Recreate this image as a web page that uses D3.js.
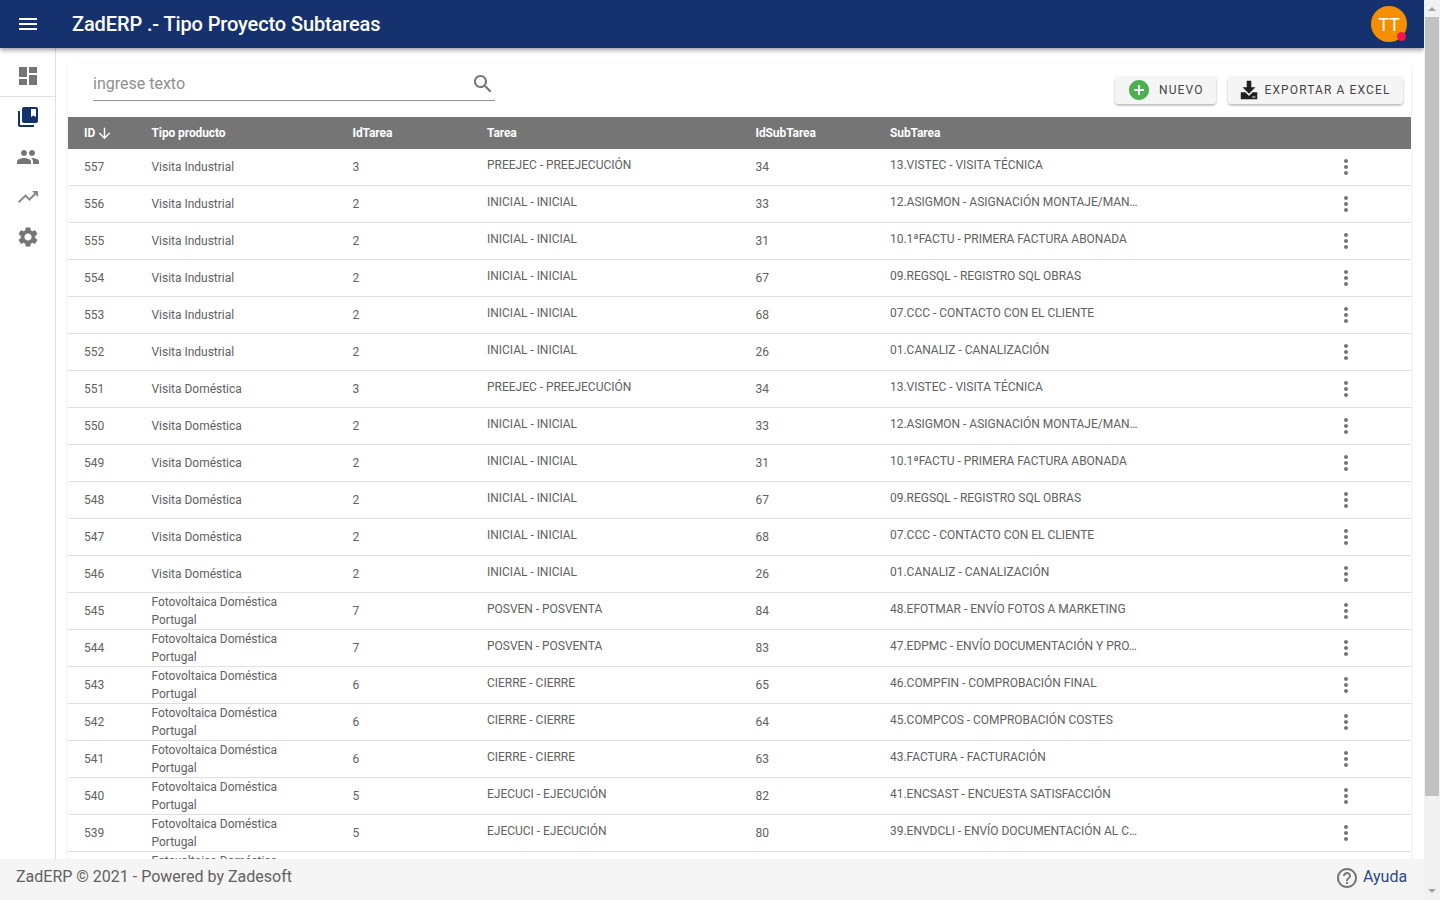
<!DOCTYPE html>
<html>
<head>
<meta charset="utf-8">
<title>ZadERP .- Tipo Proyecto Subtareas</title>
<script src="https://cdnjs.cloudflare.com/ajax/libs/d3/7.8.5/d3.min.js"></script>
<style>
  html, body { margin: 0; padding: 0; background: #fff; overflow: hidden; }
  svg { display: block; font-family: Roboto, sans-serif; }
</style>
</head>
<body>
<div id="app"></div>
<script>
const VD = 'Visita Doméstica', VI = 'Visita Industrial', FP = 'Fotovoltaica Doméstica|Portugal';
const PRE = 'PREEJEC - PREEJECUCIÓN', INI = 'INICIAL - INICIAL', POS = 'POSVEN - POSVENTA', CIE = 'CIERRE - CIERRE', EJE = 'EJECUCI - EJECUCIÓN';

const columns = ['ID', 'Tipo producto', 'IdTarea', 'Tarea', 'IdSubTarea', 'SubTarea'];
const ids = [557, 556, 555, 554, 553, 552, 551, 550, 549, 548, 547, 546, 545, 544, 543, 542, 541, 540, 539, 538];
const tipos = [VI, VI, VI, VI, VI, VI, VD, VD, VD, VD, VD, VD, FP, FP, FP, FP, FP, FP, FP, FP];
const idTareas = [3, 2, 2, 2, 2, 2, 3, 2, 2, 2, 2, 2, 7, 7, 6, 6, 6, 5, 5, ''];
const tareas = [PRE, INI, INI, INI, INI, INI, PRE, INI, INI, INI, INI, INI, POS, POS, CIE, CIE, CIE, EJE, EJE, ''];
const idSubTareas = [34, 33, 31, 67, 68, 26, 34, 33, 31, 67, 68, 26, 84, 83, 65, 64, 63, 82, 80, ''];
const subTareas = [
  '13.VISTEC - VISITA TÉCNICA',
  '12.ASIGMON - ASIGNACIÓN MONTAJE/MAN…',
  '10.1ªFACTU - PRIMERA FACTURA ABONADA',
  '09.REGSQL - REGISTRO SQL OBRAS',
  '07.CCC - CONTACTO CON EL CLIENTE',
  '01.CANALIZ - CANALIZACIÓN',
  '13.VISTEC - VISITA TÉCNICA',
  '12.ASIGMON - ASIGNACIÓN MONTAJE/MAN…',
  '10.1ªFACTU - PRIMERA FACTURA ABONADA',
  '09.REGSQL - REGISTRO SQL OBRAS',
  '07.CCC - CONTACTO CON EL CLIENTE',
  '01.CANALIZ - CANALIZACIÓN',
  '48.EFOTMAR - ENVÍO FOTOS A MARKETING',
  '47.EDPMC - ENVÍO DOCUMENTACIÓN Y PRO…',
  '46.COMPFIN - COMPROBACIÓN FINAL',
  '45.COMPCOS - COMPROBACIÓN COSTES',
  '43.FACTURA - FACTURACIÓN',
  '41.ENCSAST - ENCUESTA SATISFACCIÓN',
  '39.ENVDCLI - ENVÍO DOCUMENTACIÓN AL C…',
  ''
];

// material icon paths, 24x24
const ICONS = {
  menu: 'M3 18h18v-2H3v2zm0-5h18v-2H3v2zm0-7v2h18V6H3z',
  dashboard: 'M3 13h8V3H3v10zm0 8h8v-6H3v6zm10 0h8V11h-8v10zm0-18v6h8V3h-8z',
  bookmarks: 'M4 6H2v14c0 1.1.9 2 2 2h14v-2H4V6zM20 2H8c-1.1 0-2 .9-2 2v12c0 1.1.9 2 2 2h12c1.1 0 2-.9 2-2V4c0-1.1-.9-2-2-2zm0 10l-2.5-1.5L15 12V4h5v8z',
  people: 'M16 11c1.66 0 2.99-1.34 2.99-3S17.66 5 16 5c-1.66 0-3 1.34-3 3s1.34 3 3 3zm-8 0c1.66 0 2.99-1.34 2.99-3S9.66 5 8 5C6.34 5 5 6.34 5 8s1.34 3 3 3zm0 2c-2.33 0-7 1.17-7 3.5V19h14v-2.5c0-2.33-4.67-3.5-7-3.5zm8 0c-.29 0-.62.02-.97.05 1.16.84 1.97 1.97 1.97 3.45V19h6v-2.5c0-2.33-4.67-3.5-7-3.5z',
  trending: 'M16 6l2.29 2.29-4.88 4.88-4-4L2 16.59 3.41 18l6-6 4 4 6.3-6.29L22 12V6z',
  settings: 'M19.14 12.94c.04-.3.06-.61.06-.94 0-.32-.02-.64-.07-.94l2.03-1.58c.18-.14.23-.41.12-.61l-1.92-3.32c-.12-.22-.37-.29-.59-.22l-2.39.96c-.5-.38-1.03-.7-1.62-.94l-.36-2.54c-.04-.24-.24-.41-.48-.41h-3.84c-.24 0-.43.17-.47.41l-.36 2.54c-.59.24-1.13.57-1.62.94l-2.39-.96c-.22-.08-.47 0-.59.22L2.74 8.87c-.12.21-.08.47.12.61l2.03 1.58c-.05.3-.09.63-.09.94s.02.64.07.94l-2.03 1.58c-.18.14-.23.41-.12.61l1.92 3.32c.12.22.37.29.59.22l2.39-.96c.5.38 1.03.7 1.62.94l.36 2.54c.05.24.24.41.48.41h3.84c.24 0 .44-.17.47-.41l.36-2.54c.59-.24 1.13-.56 1.62-.94l2.39.96c.22.08.47 0 .59-.22l1.92-3.32c.12-.22.07-.47-.12-.61l-2.01-1.58zM12 15.6c-1.98 0-3.6-1.62-3.6-3.6s1.62-3.6 3.6-3.6 3.6 1.62 3.6 3.6-1.62 3.6-3.6 3.6z',
  search: 'M15.5 14h-.79l-.28-.27C15.41 12.59 16 11.11 16 9.5 16 5.91 13.09 3 9.5 3S3 5.91 3 9.5 5.91 16 9.5 16c1.61 0 3.09-.59 4.23-1.57l.27.28v.79l5 4.99L20.49 19l-4.99-5zm-6 0C7.01 14 5 11.99 5 9.5S7.01 5 9.5 5 14 7.01 14 9.5 11.99 14 9.5 14z',
  arrowDown: 'M20 12l-1.41-1.41L13 16.17V4h-2v12.17l-5.58-5.59L4 12l8 8 8-8z',
  more: 'M12 8c1.1 0 2-.9 2-2s-.9-2-2-2-2 .9-2 2 .9 2 2 2zm0 2c-1.1 0-2 .9-2 2s.9 2 2 2 2-.9 2-2-.9-2-2-2zm0 6c-1.1 0-2 .9-2 2s.9 2 2 2 2-.9 2-2-.9-2-2-2z',
  help: 'M11 18h2v-2h-2v2zm1-16C6.48 2 2 6.48 2 12s4.48 10 10 10 10-4.48 10-10S17.52 2 12 2zm0 18c-4.41 0-8-3.59-8-8s3.59-8 8-8 8 3.59 8 8-3.59 8-8 8zm0-14c-2.21 0-4 1.79-4 4h2c0-1.1.9-2 2-2s2 .9 2 2c0 2-3 1.75-3 5h2c0-2.25 3-2.5 3-5 0-2.21-1.79-4-4-4z',
  add: 'M12 2C6.48 2 2 6.48 2 12s4.48 10 10 10 10-4.48 10-10S17.52 2 12 2zm5 11h-4v4h-2v-4H7v-2h4V7h2v4h4v2z',
  download: 'M9.5 2h5v7h4.5L12 16 5 9h4.5zM3 14.5h5l4 4 4-4h5V22H3zM15.5 19.2v1.1h3.5v-1.1z'
};

const TEXT_COLOR = '#616161';
const W = 1440, H = 900;
const svg = d3.select('#app').append('svg').attr('width', W).attr('height', H);

const defs = svg.append('defs');
const shadow = (id, dy, blur, op) => {
  const f = defs.append('filter').attr('id', id)
    .attr('x', '-10%').attr('y', '-30%').attr('width', '120%').attr('height', '170%');
  f.append('feDropShadow').attr('dx', 0).attr('dy', dy)
    .attr('stdDeviation', blur).attr('flood-color', '#000').attr('flood-opacity', op);
};
shadow('barShadow', 2, 2.5, 0.4);
shadow('cardShadow', 1, 1.5, 0.12);
shadow('btnShadow', 1.5, 1, 0.3);

const icon = (parent, name, x, y, size, fill) => parent.append('path')
  .attr('d', ICONS[name])
  .attr('transform', `translate(${x},${y}) scale(${size / 24})`)
  .attr('fill', fill);

// scales for the table
const xCol = d3.scaleOrdinal().domain(columns).range([84, 151.5, 352.5, 487, 755.5, 890]);
const yRow = d3.scaleBand().domain(ids).range([149, 149 + 37 * ids.length]);
const rowMid = id => yRow(id) + 18;

// sidebar
svg.append('rect').attr('x', 55).attr('y', 48).attr('width', 1).attr('height', 812).attr('fill', '#e0e0e0');
svg.append('rect').attr('x', 0).attr('y', 96).attr('width', 55).attr('height', 1).attr('fill', '#e0e0e0');
icon(svg, 'dashboard', 16, 64, 24, '#757575');
icon(svg, 'bookmarks', 16, 105, 24, '#12326e');
icon(svg, 'people', 16, 145, 24, '#757575');
icon(svg, 'trending', 16, 185, 24, '#8a8a8a');
icon(svg, 'settings', 16, 225, 24, '#757575');

// card
svg.append('rect').attr('x', 68).attr('y', 64).attr('width', 1343).attr('height', 830).attr('rx', 4)
  .attr('fill', '#fff').attr('filter', 'url(#cardShadow)');

// search box
svg.append('text').attr('x', 93).attr('y', 89).attr('font-size', 16).attr('fill', '#8f8f8f').text('ingrese texto');
svg.append('rect').attr('x', 93).attr('y', 100).attr('width', 402).attr('height', 1).attr('fill', '#949494');
icon(svg, 'search', 471, 72, 24, '#757575');

// buttons
const btn = svg.append('g');
btn.append('rect').attr('x', 1115).attr('y', 76).attr('width', 101).attr('height', 28).attr('rx', 4)
  .attr('fill', '#f5f5f5').attr('filter', 'url(#btnShadow)');
btn.append('rect').attr('x', 1228).attr('y', 76).attr('width', 175).attr('height', 28).attr('rx', 4)
  .attr('fill', '#f5f5f5').attr('filter', 'url(#btnShadow)');
icon(btn, 'add', 1127, 78, 24, '#4caf50');
icon(btn, 'download', 1238, 79, 22, '#212121');
btn.selectAll('text').data([['NUEVO', 1159], ['EXPORTAR A EXCEL', 1264.5]]).join('text')
  .attr('x', d => d[1]).attr('y', 94).attr('font-size', 12).attr('letter-spacing', 1.12)
  .attr('font-weight', 400).attr('fill', '#444').text(d => d[0]);

// table header
svg.append('rect').attr('x', 68).attr('y', 117).attr('width', 1343).attr('height', 32).attr('fill', '#757575');
svg.append('g').selectAll('text').data(columns).join('text')
  .attr('x', d => xCol(d)).attr('y', 137)
  .attr('font-size', 12).attr('font-weight', 700).attr('fill', '#fff')
  .attr('letter-spacing', -0.1)
  .text(d => d);
icon(svg, 'arrowDown', 96, 125, 17, '#fff');

// table rows
const rows = svg.append('g').selectAll('g').data(ids).join('g');
rows.append('rect')
  .attr('x', 68).attr('y', d => yRow(d) + 36).attr('width', 1343).attr('height', 1).attr('fill', '#e0e0e0');

const cell = (cls, col, values, dy) => rows.append('text')
  .attr('class', cls)
  .attr('x', xCol(col))
  .attr('y', d => rowMid(d) + dy)
  .attr('font-size', 12).attr('letter-spacing', -0.02).attr('fill', TEXT_COLOR)
  .text((d, i) => values[i]);

cell('c-id', 'ID', ids, 4);
cell('c-idt', 'IdTarea', idTareas, 4);
cell('c-t', 'Tarea', tareas, 2);
cell('c-ids', 'IdSubTarea', idSubTareas, 4);
cell('c-st', 'SubTarea', subTareas, 2);

// tipo producto, wraps on two lines for the long ones
rows.each(function (d, i) {
  const lines = tipos[i].split('|');
  const g = d3.select(this);
  lines.forEach((line, k) => {
    const dy = lines.length === 1 ? 4 : (k === 0 ? -5 : 13);
    g.append('text')
      .attr('x', xCol('Tipo producto')).attr('y', rowMid(d) + dy)
      .attr('font-size', 12).attr('letter-spacing', -0.02).attr('fill', TEXT_COLOR).text(line);
  });
  if (idTareas[i] !== '') icon(g, 'more', 1334, rowMid(d) - 12, 24, '#757575');
});

// app bar
svg.append('rect').attr('x', 0).attr('y', 0).attr('width', 1424).attr('height', 48)
  .attr('fill', '#12326e').attr('filter', 'url(#barShadow)');
icon(svg, 'menu', 16, 12, 24, '#fff');
svg.append('text').attr('x', 72).attr('y', 31).attr('font-size', 20).attr('font-weight', 500)
  .attr('letter-spacing', -0.12).attr('fill', '#fff').text('ZadERP .- Tipo Proyecto Subtareas');
svg.append('circle').attr('cx', 1389).attr('cy', 24).attr('r', 18).attr('fill', '#f58f00');
svg.append('text').attr('x', 1389).attr('y', 30.5).attr('text-anchor', 'middle')
  .attr('font-size', 18).attr('fill', '#fff').text('TT');
svg.append('circle').attr('cx', 1401.5).attr('cy', 36.5).attr('r', 4.5).attr('fill', '#f5174e');

// footer
svg.append('rect').attr('x', 0).attr('y', 859).attr('width', 1424).attr('height', 41).attr('fill', '#f5f5f5');
svg.append('text').attr('x', 16).attr('y', 882).attr('font-size', 16).attr('fill', TEXT_COLOR)
  .text('ZadERP © 2021 - Powered by Zadesoft');
icon(svg, 'help', 1335, 866, 24, '#757575');
svg.append('text').attr('x', 1363).attr('y', 882).attr('font-size', 16).attr('fill', '#2a4a8a').text('Ayuda');

// scrollbar
svg.append('rect').attr('x', 1424).attr('y', 0).attr('width', 16).attr('height', 900).attr('fill', '#f1f1f1');
svg.append('rect').attr('x', 1425).attr('y', 17).attr('width', 14).attr('height', 779).attr('fill', '#c1c1c1');
svg.append('path').attr('d', 'M1432 7l4 4h-8z M1428 889h8l-4 4z').attr('fill', '#a3a3a3');
</script>
</body>
</html>
